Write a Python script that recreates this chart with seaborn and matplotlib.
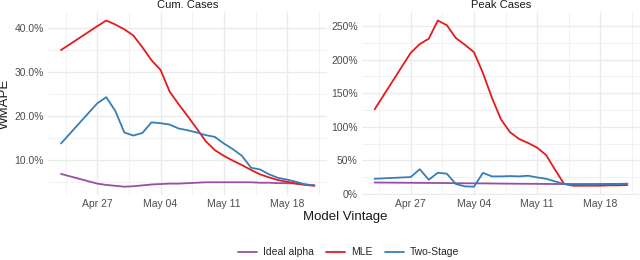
import matplotlib.pyplot as plt
import matplotlib.dates as mdates
import matplotlib.ticker as mticker
from matplotlib.lines import Line2D
import pandas as pd
import seaborn as sns

# model vintages: Apr 23, then daily Apr 27 - May 21
dates = ['2020-04-23'] + [str(d.date()) for d in pd.date_range('2020-04-27', '2020-05-21')]

methods = ['Ideal alpha', 'MLE', 'Two-Stage']
colors = ['#984EA3', '#E41A1C', '#377EB8']

# Cum. Cases (WMAPE, %)
cum_ideal = [6.8, 4.6, 4.3, 4.1, 3.9, 4.0, 4.2, 4.4, 4.5, 4.6, 4.6, 4.7, 4.8,
             4.9, 4.9, 4.9, 4.9, 4.9, 4.9, 4.8, 4.8, 4.7, 4.7, 4.6, 4.4, 4.2]
cum_mle = [34.9, 40.3, 41.6, 40.7, 39.6, 38.2, 35.5, 32.6, 30.4, 25.5, 22.6, 19.9, 17.1,
           14.2, 12.2, 10.9, 9.8, 8.8, 7.7, 6.7, 6.0, 5.4, 5.0, 4.6, 4.3, 4.1]
cum_two = [13.7, 22.8, 24.2, 21.1, 16.2, 15.5, 16.1, 18.5, 18.3, 18.0, 17.1, 16.7, 16.2,
           15.6, 15.2, 13.7, 12.4, 10.9, 8.2, 7.8, 6.7, 5.9, 5.5, 5.0, 4.4, 4.2]

# Peak Cases (WMAPE, %)
peak_ideal = [17.2, 16.8, 16.7, 16.6, 16.5, 16.4, 16.2, 16.1, 16.0, 15.9, 15.8, 15.6, 15.5,
              15.4, 15.3, 15.2, 15.1, 15.0, 14.9, 14.9, 14.9, 15.0, 15.0, 15.1, 15.2, 15.3]
peak_mle = [126, 210, 223, 231, 258, 251, 232, 222, 211, 180, 143, 111, 92,
            82, 76, 69, 58, 36, 15, 12.5, 12.5, 12.5, 12.5, 13, 13, 13.5]
peak_two = [22.8, 25.3, 37.0, 21.3, 31.8, 30.3, 15.0, 11.5, 11.0, 31.5, 26.3, 26.3, 26.8,
            26.3, 27.3, 24.8, 22.8, 18.8, 14.9, 14.4, 14.4, 14.0, 14.4, 14.6, 15.0, 15.4]

panels = {
    'Cum. Cases': [cum_ideal, cum_mle, cum_two],
    'Peak Cases': [peak_ideal, peak_mle, peak_two],
}

rows = []
for panel, series in panels.items():
    for m, vals in zip(methods, series):
        for d, v in zip(dates, vals):
            rows.append({'panel': panel, 'method': m, 'date': pd.Timestamp(d), 'wmape': v})
df = pd.DataFrame(rows)

sns.set_style('white')
plt.rcParams['font.family'] = ['Liberation Sans', 'DejaVu Sans']

fig = plt.figure(figsize=(6.4, 2.6), dpi=100)
ax1 = fig.add_axes([0.0755, 0.25, 0.4355, 0.703])
ax2 = fig.add_axes([0.5656, 0.25, 0.4344, 0.703])

mondays = mdates.date2num(pd.date_range('2020-04-20', '2020-05-25', freq='7D'))

for ax, panel in [(ax1, 'Cum. Cases'), (ax2, 'Peak Cases')]:
    sns.lineplot(data=df[df['panel'] == panel], x='date', y='wmape', hue='method',
                 hue_order=methods, palette=colors, linewidth=1.3, legend=False, ax=ax)
    ax.margins(x=0.05, y=0.05)
    ax.xaxis.set_major_locator(mdates.WeekdayLocator(byweekday=mdates.MO))
    ax.xaxis.set_major_formatter(mdates.DateFormatter('%b %d'))
    ax.xaxis.set_minor_locator(mticker.FixedLocator(mondays + 3.5))
    ax.grid(which='major', color='#EBEBEB', linewidth=1.0)
    ax.grid(which='minor', color='#F0F0F0', linewidth=0.6)
    ax.tick_params(which='both', length=0, labelsize=7.5, colors='#4D4D4D', pad=3)
    for s in ax.spines.values():
        s.set_visible(False)
    ax.set_title(panel, fontsize=8, color='#1A1A1A', pad=3)
    ax.set_xlabel('')
    ax.set_ylabel('')

ax1.yaxis.set_major_locator(mticker.MultipleLocator(10))
ax1.yaxis.set_minor_locator(mticker.MultipleLocator(5))
ax1.yaxis.set_major_formatter(mticker.FuncFormatter(lambda v, _: f'{v:.1f}%'))
ax2.yaxis.set_major_locator(mticker.MultipleLocator(50))
ax2.yaxis.set_minor_locator(mticker.MultipleLocator(25))
ax2.yaxis.set_major_formatter(mticker.FuncFormatter(lambda v, _: f'{v:.0f}%'))

ax1.set_ylabel('WMAPE', fontsize=9.5, color='#1A1A1A', labelpad=3)
fig.text(0.54, 0.165, 'Model Vintage', ha='center', va='center', fontsize=9.5, color='#1A1A1A')

handles = [Line2D([], [], color=c, linewidth=1.3) for c in colors]
fig.legend(handles, methods, loc='center', bbox_to_anchor=(0.545, 0.03), ncol=3,
           frameon=False, fontsize=7.5, handlelength=1.8, columnspacing=1.2, handletextpad=0.6)

fig.savefig('out.png', dpi=100)
